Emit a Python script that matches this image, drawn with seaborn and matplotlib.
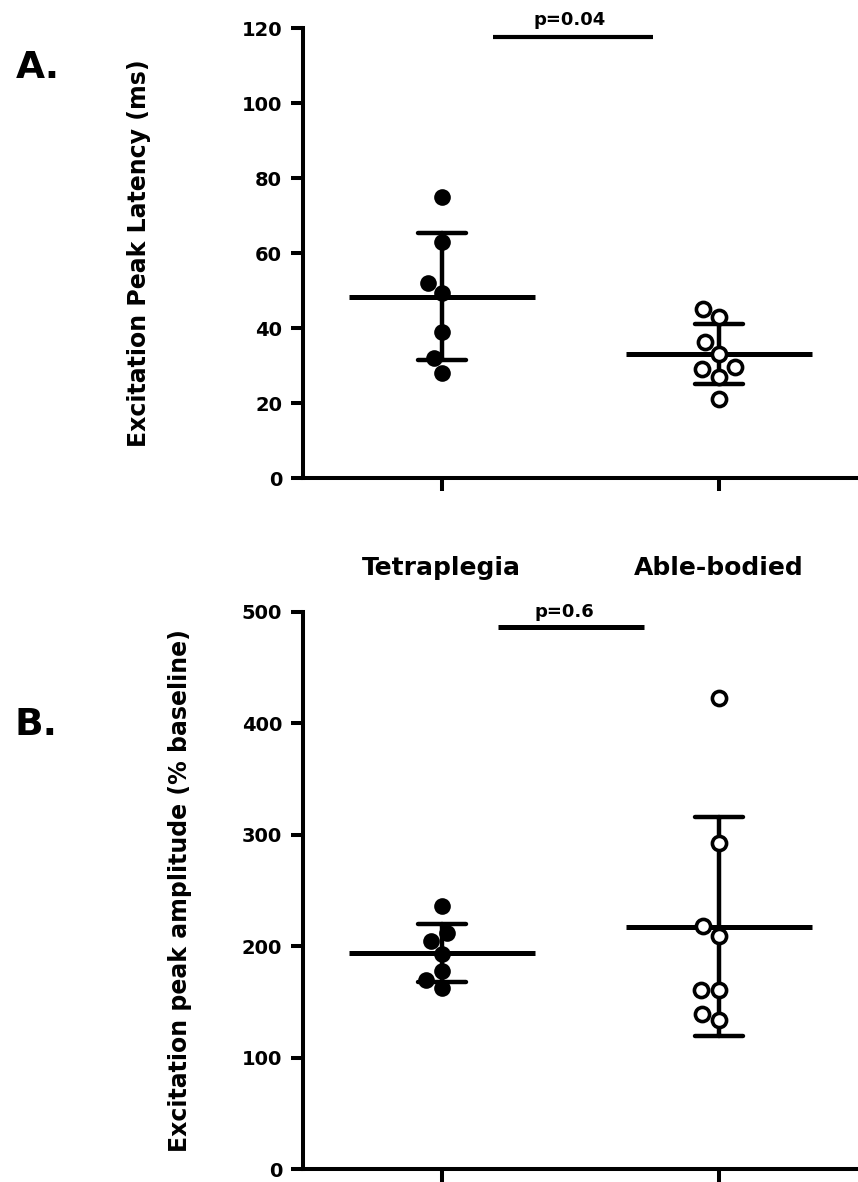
import numpy as np
import pandas as pd
import matplotlib
matplotlib.use("Agg")
import matplotlib.pyplot as plt
import seaborn as sns

# ---------------- data ----------------
groups = ["Tetraplegia", "Able-bodied"]

tetra_latency = [75, 63, 52, 49.4, 39, 32, 28]
able_latency = [45, 42.9, 36.2, 33.2, 29.7, 29, 27, 21.2]

tetra_amp = [236, 212, 205, 193, 178, 170, 163]
able_amp = [423, 293, 218, 209.5, 161, 161, 139, 134]

lat_ticks = [0, 20, 40, 60, 80, 100, 120]
amp_ticks = [0, 100, 200, 300, 400, 500]

lat_label = "Excitation Peak Latency (ms)"
amp_label = "Excitation peak amplitude (% baseline)"
p_lat = "p=0.04"
p_amp = "p=0.6"

# ---------------- style ----------------
sns.set_theme(style="ticks")
plt.rcParams["font.family"] = ["DejaVu Sans"]
plt.rcParams["font.weight"] = "bold"
plt.rcParams["axes.labelweight"] = "bold"
plt.rcParams["axes.linewidth"] = 2.9
plt.rcParams["axes.edgecolor"] = "black"
plt.rcParams["axes.labelcolor"] = "black"
plt.rcParams["text.color"] = "black"
plt.rcParams["xtick.color"] = "black"
plt.rcParams["ytick.color"] = "black"
plt.rcParams["xtick.labelcolor"] = "black"
plt.rcParams["ytick.labelcolor"] = "black"


def make_df(a, b):
    return pd.DataFrame({
        "group": [groups[0]] * len(a) + [groups[1]] * len(b),
        "value": list(a) + list(b),
    })


df_lat = make_df(tetra_latency, able_latency)
df_amp = make_df(tetra_amp, able_amp)

fig = plt.figure(figsize=(8.58, 11.82), dpi=100)
axA = fig.add_axes([0.3531, 0.59560, 0.6469, 0.38071])
axB = fig.add_axes([0.3531, 0.01074, 0.6469, 0.47175])


def draw(ax, df, ticks, ylabel, label_x):
    sns.swarmplot(data=df[df.group == groups[0]], x="group", y="value",
                  order=groups, color="black", size=12, linewidth=0,
                  ax=ax, legend=False)
    sns.swarmplot(data=df[df.group == groups[1]], x="group", y="value",
                  order=groups, color="white", edgecolor="black",
                  linewidth=2.6, size=10.2, ax=ax, legend=False)
    sns.pointplot(data=df, x="group", y="value", order=groups,
                  errorbar="sd", capsize=0.173, color="black",
                  marker="_", markersize=134, markeredgewidth=3.6,
                  linestyle="none", err_kws={"linewidth": 3.2},
                  ax=ax)
    ax.set_xlim(-0.5, 1.5)
    ax.set_ylim(ticks[0], ticks[-1])
    ax.set_yticks(ticks)
    ax.set_yticklabels([str(t) for t in ticks])
    for s in ["top", "right"]:
        ax.spines[s].set_visible(False)
    for s in ["left", "bottom"]:
        ax.spines[s].set_linewidth(2.9)
        ax.spines[s].set_color("black")
    ax.tick_params(axis="both", length=9, width=2.9, direction="out",
                   labelsize=14, pad=6, colors="black")
    ax.set_xlabel("")
    ax.set_ylabel(ylabel, fontsize=17, fontweight="bold", color="black")
    ax.yaxis.set_label_coords(label_x, 0.5)


draw(axA, df_lat, lat_ticks, lat_label, -0.273)
draw(axB, df_amp, amp_ticks, amp_label, -0.2007)

axA.tick_params(axis="x", labelsize=18, pad=47.5)
for t in axA.get_xticklabels():
    t.set_fontweight("bold")
axB.tick_params(axis="x", labelbottom=False)

# significance bars
axA.plot([0.185, 0.761], [117.6, 117.6], color="black", lw=3,
         solid_capstyle="butt", clip_on=False)
axA.text(0.46, 120.8, p_lat, ha="center", va="baseline", fontsize=13,
         fontweight="bold", color="black")
axB.plot([0.202, 0.728], [486.3, 486.3], color="black", lw=3.6,
         solid_capstyle="butt", clip_on=False)
axB.text(0.443, 495, p_amp, ha="center", va="baseline", fontsize=13,
         fontweight="bold", color="black")

# panel letters
fig.text(16 / 858, 1 - 78 / 1182, "A.", fontsize=27, fontweight="bold",
         ha="left", va="baseline", color="black")
fig.text(14 / 858, 1 - 735 / 1182, "B.", fontsize=27, fontweight="bold",
         ha="left", va="baseline", color="black")

fig.savefig("out.png", dpi=100)
